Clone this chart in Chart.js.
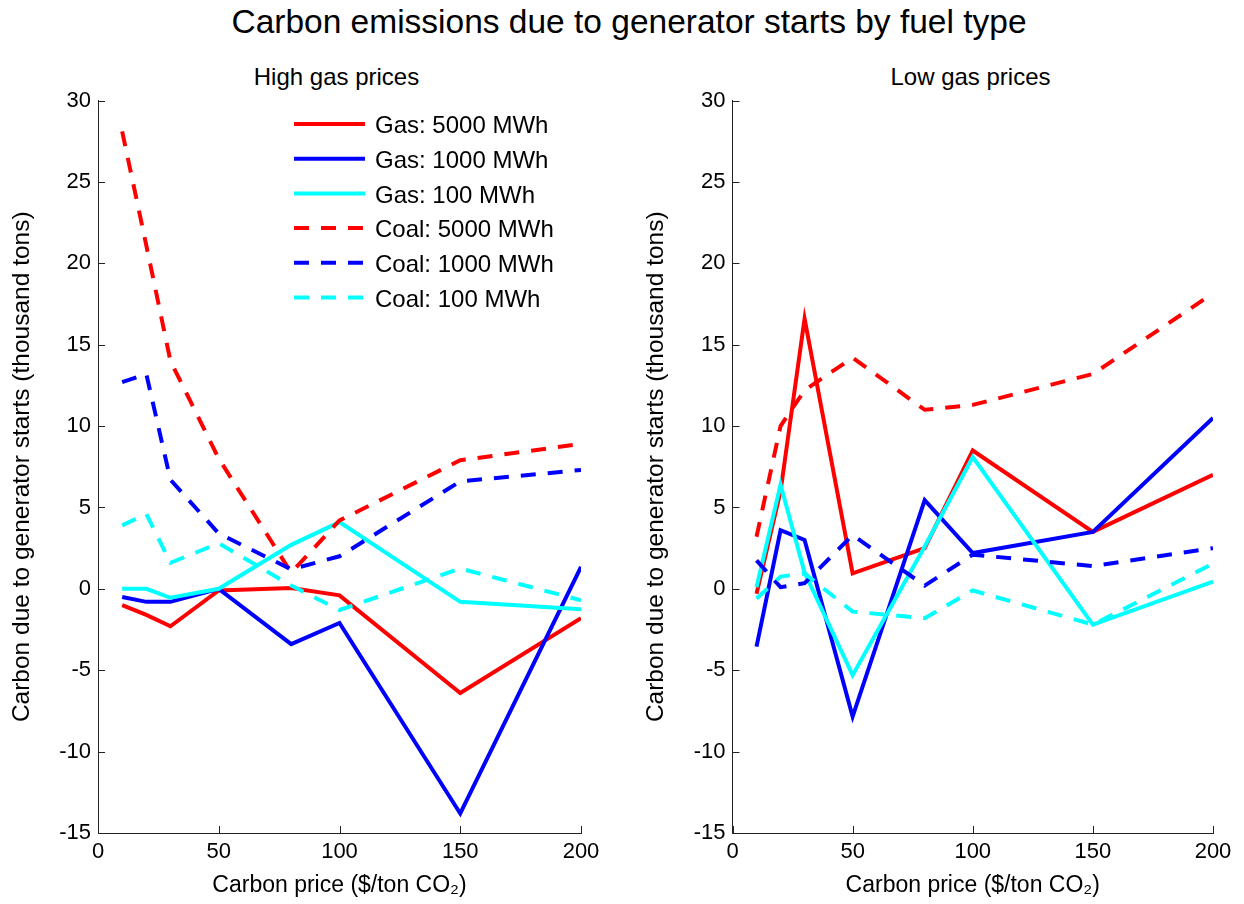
<!DOCTYPE html>
<html>
<head>
<meta charset="utf-8">
<script src="https://cdn.jsdelivr.net/npm/chart.js@4.4.0/dist/chart.umd.min.js"></script>
<style>
  body { margin: 0; background: #fff; width: 1244px; height: 904px; overflow: hidden; position: relative;
         font-family: "Liberation Sans", Arial, sans-serif; }
  canvas { position: absolute; top: 0; }
  #cL { left: 0; }
  #cR { left: 622px; }
  .t { position: absolute; white-space: nowrap; transform: translate(-50%, -50%); color: #000; }
</style>
</head>
<body>
<div class="t" style="left:629px; top:22px; font-size:33.5px;">Carbon emissions due to generator starts by fuel type</div>
<div class="t" style="left:336.5px; top:77px; font-size:24px;">High gas prices</div>
<div class="t" style="left:970.5px; top:77px; font-size:24px;">Low gas prices</div>
<canvas id="cL" width="622" height="904"></canvas>
<canvas id="cR" width="622" height="904"></canvas>
<script>
// Carbon price levels ($/ton CO2)
const carbonPrice = [10, 20, 30, 50, 80, 100, 150, 200];

// Series names
const seriesLabels = ['Gas: 5000 MWh', 'Gas: 1000 MWh', 'Gas: 100 MWh',
                      'Coal: 5000 MWh', 'Coal: 1000 MWh', 'Coal: 100 MWh'];

// High gas prices (thousand tons)
const highGas5000  = [-1.0, -1.6, -2.3, -0.1, 0.05, -0.4, -6.4, -1.8];
const highGas1000  = [-0.5, -0.8, -0.8, 0.0, -3.4, -2.1, -13.8, 1.35];
const highGas100   = [0.0, 0.0, -0.55, 0.0, 2.7, 4.1, -0.8, -1.25];
const highCoal5000 = [28.1, 21.1, 14.0, 8.0, 1.0, 4.2, 7.9, 8.9];
const highCoal1000 = [12.7, 13.2, 6.7, 3.4, 1.2, 2.0, 6.6, 7.3];
const highCoal100  = [3.9, 4.6, 1.6, 2.8, 0.2, -1.3, 1.25, -0.7];

// Low gas prices (thousand tons)
const lowGas5000  = [-0.3, 6.0, 16.6, 0.95, 2.5, 8.5, 3.5, 7.0];
const lowGas1000  = [-3.55, 3.6, 3.0, -7.85, 5.45, 2.2, 3.5, 10.5];
const lowGas100   = [0.1, 6.4, 1.0, -5.3, 2.6, 8.1, -2.2, 0.45];
const lowCoal5000 = [3.2, 10.0, 12.2, 14.2, 11.0, 11.3, 13.2, 18.15];
const lowCoal1000 = [1.75, 0.1, 0.35, 3.3, 0.2, 2.1, 1.4, 2.5];
const lowCoal100  = [-0.6, 0.75, 0.95, -1.4, -1.8, -0.1, -2.2, 1.55];

// Axis ticks
const xTicks = [0, 50, 100, 150, 200];
const yTicks = [-15, -10, -5, 0, 5, 10, 15, 20, 25, 30];

const FONT = '"Liberation Sans", Arial, sans-serif';
const colors = ['#ff0000', '#0000ff', '#00ffff', '#ff0000', '#0000ff', '#00ffff'];
const dashes = [[], [], [], [15, 12], [15, 12], [15, 12]];

function buildDatasets(seriesList) {
  return seriesList.map((vals, i) => ({
    label: seriesLabels[i],
    data: carbonPrice.map((x, k) => ({ x: x, y: vals[k] })),
    borderColor: colors[i],
    backgroundColor: colors[i],
    borderWidth: 4,
    borderDash: dashes[i],
    borderCapStyle: 'butt',
    borderJoinStyle: 'miter',
    pointRadius: 0,
    tension: 0,
    fill: false,
    order: seriesList.length - i
  }));
}

// Short tick marks pointing into the plot area
const inwardTicks = {
  id: 'inwardTicks',
  beforeDatasetsDraw(chart) {
    const { ctx, chartArea: a, scales: { x, y } } = chart;
    ctx.save();
    ctx.strokeStyle = '#222';
    ctx.lineWidth = 1;
    ctx.beginPath();
    xTicks.forEach(v => {
      const px = Math.round(x.getPixelForValue(v)) + 0.5;
      ctx.moveTo(px, a.bottom); ctx.lineTo(px, a.bottom - 7);
    });
    yTicks.forEach(v => {
      const py = Math.round(y.getPixelForValue(v)) + 0.5;
      ctx.moveTo(a.left, py); ctx.lineTo(a.left + 7, py);
    });
    ctx.stroke();
    ctx.restore();
  }
};

// Borderless legend placed inside the plot area
const innerLegend = {
  id: 'innerLegend',
  afterDatasetsDraw(chart, args, o) {
    if (!o || !o.show) return;
    const ctx = chart.ctx;
    chart.data.datasets.forEach((ds, i) => {
      const y = o.y0 + i * o.dy;
      ctx.save();
      ctx.strokeStyle = ds.borderColor;
      ctx.lineWidth = ds.borderWidth;
      ctx.lineCap = 'butt';
      ctx.setLineDash(ds.borderDash || []);
      ctx.beginPath();
      ctx.moveTo(o.x0, y); ctx.lineTo(o.x1, y);
      ctx.stroke();
      ctx.setLineDash([]);
      ctx.fillStyle = '#000';
      ctx.font = '24px ' + FONT;
      ctx.textBaseline = 'middle';
      ctx.textAlign = 'left';
      ctx.fillText(ds.label, o.tx, y + 2.5);
      ctx.restore();
    });
  }
};

function makeChart(id, seriesList, pad, yWidth, showLegend) {
  return new Chart(document.getElementById(id), {
    type: 'line',
    data: { datasets: buildDatasets(seriesList) },
    plugins: [inwardTicks, innerLegend],
    options: {
      responsive: false,
      animation: false,
      devicePixelRatio: 1,
      layout: { padding: pad },
      plugins: {
        legend: { display: false },
        tooltip: { enabled: false },
        title: { display: false },
        innerLegend: { show: showLegend, x0: 294, x1: 365, tx: 375, y0: 124, dy: 34.7 }
      },
      scales: {
        x: {
          type: 'linear', min: 0, max: 200,
          afterBuildTicks(s) { s.ticks = xTicks.map(v => ({ value: v })); },
          afterFit(s) { s.height = 71; },
          ticks: { color: '#000', font: { size: 22, family: FONT }, padding: 6, maxRotation: 0 },
          grid: { display: false, drawTicks: false },
          border: { display: true, color: '#222', width: 1 },
          title: { display: true, text: 'Carbon price ($/ton CO\u2082)', color: '#000',
                   font: { size: 23, family: FONT }, padding: { top: 0, bottom: 5 } }
        },
        y: {
          type: 'linear', min: -15, max: 30,
          afterBuildTicks(s) { s.ticks = yTicks.map(v => ({ value: v })); },
          afterFit(s) { s.width = yWidth; },
          ticks: { color: '#000', font: { size: 22, family: FONT }, padding: 7 },
          grid: { display: false, drawTicks: false },
          border: { display: true, color: '#222', width: 1 },
          title: { display: true, text: 'Carbon due to generator starts (thousand tons)', color: '#000',
                   font: { size: 24.5, family: FONT }, padding: { top: 0, bottom: 0 } }
        }
      }
    }
  });
}

makeChart('cL', [highGas5000, highGas1000, highGas100, highCoal5000, highCoal1000, highCoal100],
          { left: 8, right: 41, top: 100.5, bottom: 0 }, 90, true);
makeChart('cR', [lowGas5000, lowGas1000, lowGas100, lowCoal5000, lowCoal1000, lowCoal100],
          { left: 20, right: 31, top: 100.5, bottom: 0 }, 90.5, false);
</script>
</body>
</html>
